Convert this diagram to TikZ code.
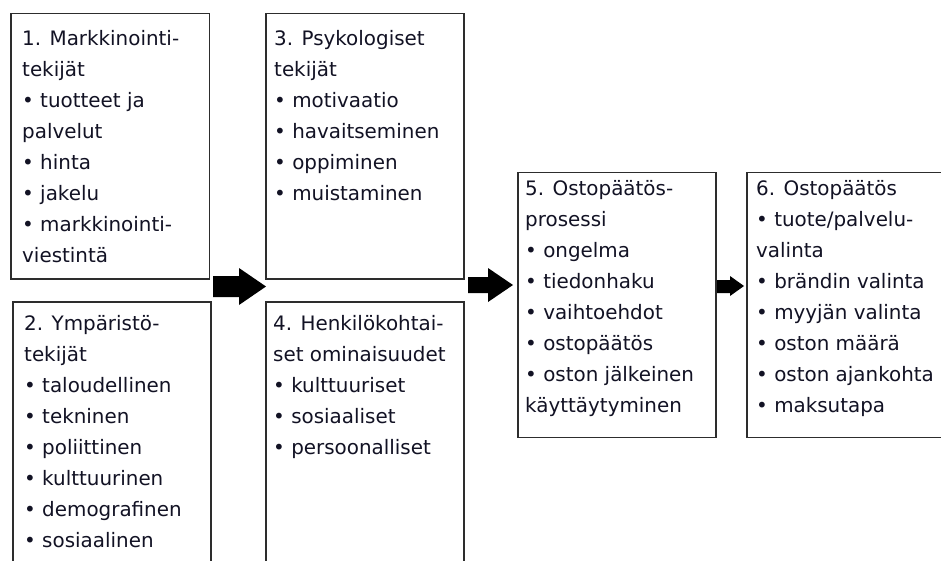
\documentclass[tikz,border=0pt]{standalone}
\usepackage{fontspec}
\setmainfont{DejaVu Sans}
\definecolor{boxc}{RGB}{45,45,45}
\definecolor{textc}{RGB}{18,18,36}
\newcommand\boxline[1]{\hbox{#1}}
\newcommand\listtext[1]{\vtop{\baselineskip=31pt #1}}
\tikzset{
  box/.style={draw=boxc, line width=1.8pt, anchor=north west, inner sep=0pt},
  txt/.style={anchor=base west, inner sep=0pt, text=textc, font=\fontsize{19.9}{31}\selectfont},
  blockarrow/.style={fill=black, draw=none}
}
\begin{document}
\begin{tikzpicture}[x=1pt,y=-1pt]
\useasboundingbox (0,0) rectangle (941,560);
\clip (0,0) rectangle (941,560);
\fill[white] (0,0) rectangle (941,560);
% boxes
\node[box, minimum width=198.5pt, minimum height=265.5pt] (b1) at (10,12.5) {};
\node[box, minimum width=198pt, minimum height=300pt] (b2) at (12,301) {};
\node[box, minimum width=198pt, minimum height=265.5pt] (b3) at (265,12.5) {};
\node[box, minimum width=198pt, minimum height=300pt] (b4) at (265,301) {};
\node[box, minimum width=198pt, minimum height=265pt] (b5) at (517,171.5) {};
\node[box, minimum width=230pt, minimum height=265pt] (b6) at (746,171.5) {};
% texts
\node[txt] (t1) at (22,45) {\listtext{%
  \boxline{1. Markkinointi-}\boxline{tekijät}\boxline{• tuotteet ja}\boxline{palvelut}%
  \boxline{• hinta}\boxline{• jakelu}\boxline{• markkinointi-}\boxline{viestintä}}};
\node[txt] (t2) at (24,330) {\listtext{%
  \boxline{2. Ympäristö-}\boxline{tekijät}\boxline{• taloudellinen}\boxline{• tekninen}%
  \boxline{• poliittinen}\boxline{• kulttuurinen}\boxline{• demografinen}\boxline{• sosiaalinen}}};
\node[txt] (t3) at (274,45) {\listtext{%
  \boxline{3. Psykologiset}\boxline{tekijät}\boxline{• motivaatio}\boxline{• havaitseminen}%
  \boxline{• oppiminen}\boxline{• muistaminen}}};
\node[txt] (t4) at (273,330) {\listtext{%
  \boxline{4. Henkilökohtai-}\boxline{set ominaisuudet}\boxline{• kulttuuriset}%
  \boxline{• sosiaaliset}\boxline{• persoonalliset}}};
\node[txt] (t5) at (525,195) {\listtext{%
  \boxline{5. Ostopäätös-}\boxline{prosessi}\boxline{• ongelma}\boxline{• tiedonhaku}%
  \boxline{• vaihtoehdot}\boxline{• ostopäätös}\boxline{• oston jälkeinen}\boxline{käyttäytyminen}}};
\node[txt] (t6) at (756,195) {\listtext{%
  \boxline{6. Ostopäätös}\boxline{• tuote/palvelu-}\boxline{valinta}\boxline{• brändin valinta}%
  \boxline{• myyjän valinta}\boxline{• oston määrä}\boxline{• oston ajankohta}\boxline{• maksutapa}}};
% block arrows
\fill[blockarrow] (213,276) -- (239,276) -- (239,268) -- (266,286.5) -- (239,305) -- (239,297) -- (213,297) -- cycle;
\fill[blockarrow] (468,277) -- (488,277) -- (488,268) -- (513,285) -- (488,302) -- (488,293) -- (468,293) -- cycle;
\fill[blockarrow] (717,280) -- (730,280) -- (730,276) -- (744,286) -- (730,296) -- (730,293) -- (717,293) -- cycle;
\end{tikzpicture}
\end{document}
